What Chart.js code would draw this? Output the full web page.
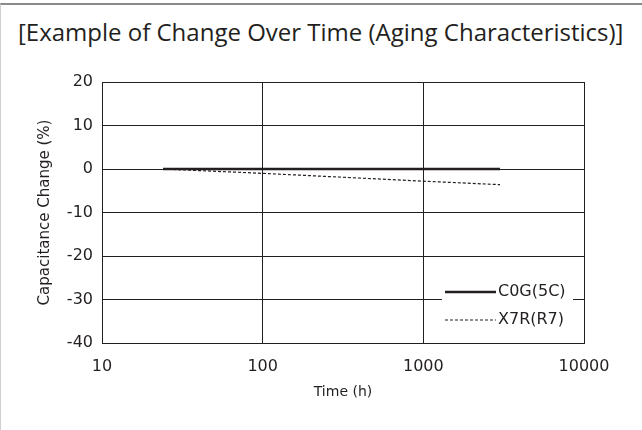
<!DOCTYPE html>
<html>
<head>
<meta charset="utf-8">
<script src="https://cdn.jsdelivr.net/npm/chart.js@4/dist/chart.umd.min.js"></script>
<style>
  html, body { margin: 0; padding: 0; background: #fff; }
  #wrap { position: relative; width: 642px; height: 430px; overflow: hidden; }
  #frame { position: absolute; left: 0; top: 3px; width: 700px; height: 500px;
           border-top: 2px solid #8a8a8a; border-left: 1px solid #cfcfcf; }
  #title { position: absolute; left: 18px; top: 18px; font-family: "Open Sans", sans-serif;
           font-size: 24px; color: #231f20; white-space: nowrap; line-height: 1.2; }
  canvas { position: absolute; left: 0; top: 0; }
</style>
</head>
<body>
<div id="wrap">
  <div id="frame"></div>
  <div id="title">[Example of Change Over Time (Aging Characteristics)]</div>
  <canvas id="myChart" width="642" height="430"></canvas>
</div>
<script>
const timeHours = [24, 100, 1000, 3000];
const c0gChange = [0, 0, 0, 0];
const x7rChange = [0, -1.0, -2.8, -3.6];
const xTicks = [10, 100, 1000, 10000];
const yMin = -40;
const yMax = 20;
const ink = "#231f20";
const tickFont = { family: "DejaVu Sans", size: 16 };

const toPoints = (ys) => timeHours.map((t, i) => ({ x: t, y: ys[i] }));

// legend drawn inside the plot, lower right, on a white patch
const innerLegend = {
    id: "innerLegend",
    afterDatasetsDraw(chart) {
        const c = chart.ctx;
        const a = chart.chartArea;
        const x0 = a.right - 142;
        const y0 = a.bottom - 63;
        c.save();
        c.fillStyle = "#fff";
        c.fillRect(x0, y0, 131, 53);
        c.font = "16px 'DejaVu Sans'";
        c.textBaseline = "middle";
        chart.data.datasets.forEach((ds, i) => {
            const y = y0 + 12 + i * 28;
            c.strokeStyle = ds.borderColor;
            c.lineWidth = ds.borderWidth;
            c.setLineDash(ds.borderDash || []);
            c.beginPath();
            c.moveTo(x0 + 3, y);
            c.lineTo(x0 + 54, y);
            c.stroke();
            c.fillStyle = ink;
            c.fillText(ds.label, x0 + 56, y);
        });
        c.restore();
    }
};

new Chart(document.getElementById("myChart"), {
    type: "line",
    data: {
        datasets: [{
            label: "C0G(5C)",
            data: toPoints(c0gChange),
            borderColor: ink,
            borderWidth: 2.5,
            pointRadius: 0,
            tension: 0
        }, {
            label: "X7R(R7)",
            data: toPoints(x7rChange),
            borderColor: ink,
            borderWidth: 1.2,
            borderDash: [3, 2],
            pointRadius: 0,
            tension: 0
        }]
    },
    options: {
        responsive: false,
        animation: false,
        layout: { padding: { top: 82, right: 58, left: 0, bottom: 0 } },
        plugins: { legend: { display: false }, tooltip: { enabled: false } },
        scales: {
            x: {
                type: "logarithmic",
                min: 10,
                max: 10000,
                afterBuildTicks: (s) => { s.ticks = xTicks.map(v => ({ value: v })); },
                afterFit: (s) => { s.height = 87; },
                ticks: { color: ink, font: tickFont, padding: 14, maxRotation: 0,
                         callback: (v) => String(v) },
                grid: { color: ink, lineWidth: 1, drawTicks: false },
                border: { color: ink, width: 1 },
                title: { display: true, text: "Time (h)", color: ink,
                         font: { family: "DejaVu Sans", size: 14 }, padding: { bottom: 29 } }
            },
            y: {
                min: yMin,
                max: yMax,
                afterFit: (s) => { s.width = 102; },
                ticks: { stepSize: 10, color: ink, font: tickFont, padding: 9 },
                grid: { color: ink, lineWidth: 1, drawTicks: false },
                border: { color: ink, width: 1 },
                title: { display: true, text: "Capacitance Change (%)", color: ink,
                         font: { family: "DejaVu Sans", size: 15 }, padding: { top: 36 } }
            }
        }
    },
    plugins: [innerLegend]
});
</script>
</body>
</html>
